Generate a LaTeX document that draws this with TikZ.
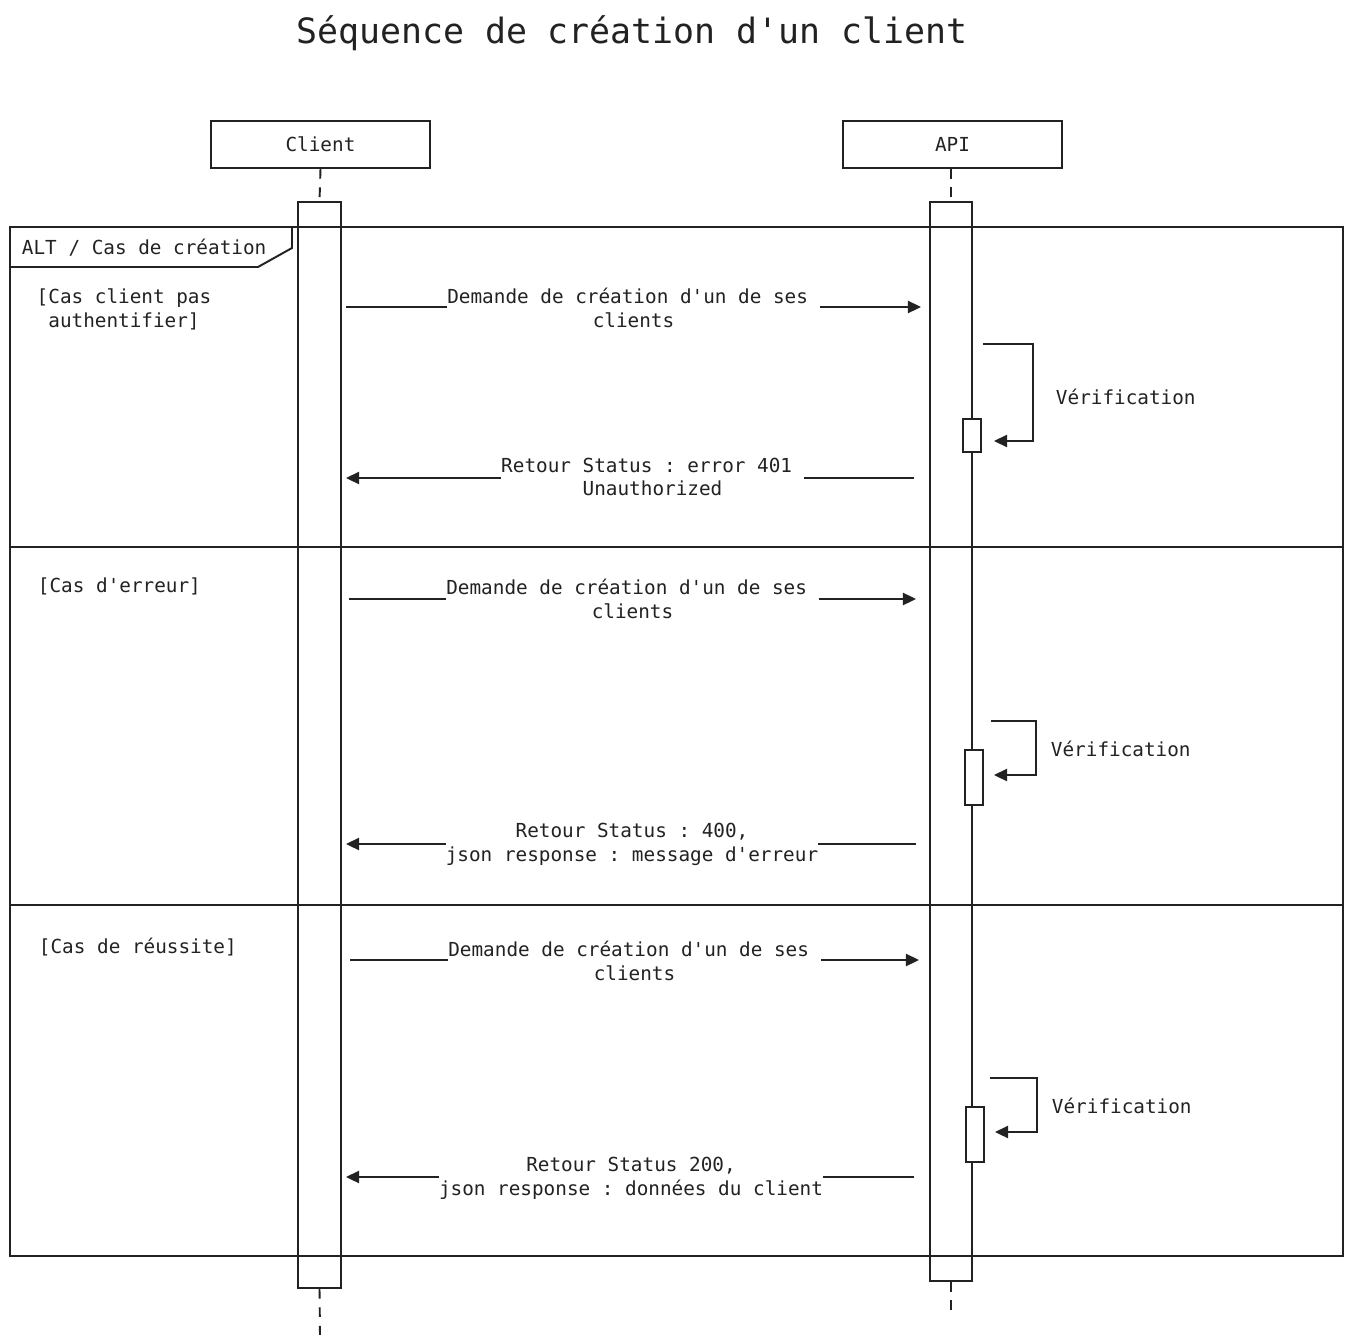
\documentclass[tikz,border=0pt]{standalone}
\usepackage{fontspec}
\setmonofont{DejaVu Sans Mono}
\renewcommand{\familydefault}{\ttdefault}
\frenchspacing
\usetikzlibrary{arrows.meta,positioning}
\definecolor{ink}{RGB}{34,34,34}

\begin{document}
\begin{tikzpicture}[x=0.02cm, y=-0.02cm, color=ink, line width=1.1pt,
  txt/.style={align=center, inner sep=0pt, font=\ttfamily\fontsize{11}{13.6}\selectfont},
  actor/.style={draw, rectangle, minimum width=4.38cm, minimum height=0.94cm, font=\ttfamily\fontsize{11}{13.6}\selectfont},
  bar/.style={draw, rectangle, minimum width=0.86cm, inner sep=0pt},
  selfbox/.style={draw, fill=white, rectangle, minimum width=0.36cm, inner sep=0pt},
  life/.style={dash pattern=on 5.5pt off 5pt},
  msg/.style={-{Triangle[length=7.5pt,width=7pt]}, line width=1pt},
  lbl/.style={txt, fill=white, inner ysep=1pt}]
\useasboundingbox (0,0) rectangle (1352,1335);
\node[font=\ttfamily\fontsize{19.85}{24}\selectfont] (title) at (632,33) {Séquence de création d'un client};
% participants and lifelines
\node[actor] (cli) at (320.5,144.5) {Client};
\node[actor] (api) at (952.5,144.5) {API};
\node[bar, minimum height=21.72cm] (actC) at (319.5,745) {};
\node[bar, minimum width=0.84cm, minimum height=21.58cm] (actA) at (951,741.5) {};
\coordinate (endC) at (320,1335);
\coordinate (endA) at (951,1316);
\draw[life] (cli.south) -- (actC.north); \draw[life] (actC.south) -- (endC);
\draw[life] (api.south -| actA.north) -- (actA.north); \draw[life] (actA.south) -- (endA);
% alt frame
\draw (10,227) rectangle (1343,1256);
\draw (10,547) -- (1343,547);
\draw (10,905) -- (1343,905);
\draw (10,267) -- (258,267) -- (292,248) -- (292,227);
\node[txt, anchor=west] (alt) at (21,248) {ALT / Cas de création};
\node[txt] (g1) at (124,309) {[Cas client pas\\authentifier]};
\node[txt, anchor=west] (g2) at (37,586) {[Cas d'erreur]};
\node[txt, anchor=west] (g3) at (38,947) {[Cas de réussite]};
% cas 1
\coordinate (m1a) at (346,307); \coordinate (m1b) at (921,307);
\draw[msg] (m1a) -- (m1b);
\node[lbl] (m1) at (633.5,308) {Demande de création d'un de ses\hphantom{x}\\clients};
\node[selfbox, minimum height=0.66cm] (chk1) at (972,435.5) {};
\coordinate (v1a) at (983,344); \coordinate (v1b) at (994,441);
\draw[msg] (v1a) -- ++(50,0) |- (v1b);
\node[txt, anchor=west] (v1) at (1055,397) {Vérification};
\coordinate (r1a) at (914,478); \coordinate (r1b) at (346,478);
\draw[msg] (r1a) -- (r1b);
\node[lbl] (r1) at (652.5,477) {Retour Status : error 401\hphantom{x}\\Unauthorized};
% cas 2
\coordinate (m2a) at (349,599); \coordinate (m2b) at (916,599);
\draw[msg] (m2a) -- (m2b);
\node[lbl] (m2) at (632.5,599) {Demande de création d'un de ses\hphantom{x}\\clients};
\node[selfbox, minimum height=1.1cm] (chk2) at (974,777.5) {};
\coordinate (v2a) at (991,721); \coordinate (v2b) at (994,775);
\draw[msg] (v2a) -- ++(45,0) |- (v2b);
\node[txt, anchor=west] (v2) at (1050,749) {Vérification};
\coordinate (r2a) at (916,844); \coordinate (r2b) at (346,844);
\draw[msg] (r2a) -- (r2b);
\node[lbl] (r2) at (632,844) {Retour Status : 400,\\json response : message d'erreur};
% cas 3
\coordinate (m3a) at (350,960); \coordinate (m3b) at (919,960);
\draw[msg] (m3a) -- (m3b);
\node[lbl] (m3) at (634.5,961) {Demande de création d'un de ses\hphantom{x}\\clients};
\node[selfbox, minimum height=1.1cm] (chk3) at (975,1134.5) {};
\coordinate (v3a) at (990,1078); \coordinate (v3b) at (995,1132);
\draw[msg] (v3a) -- ++(47,0) |- (v3b);
\node[txt, anchor=west] (v3) at (1051,1106) {Vérification};
\coordinate (r3a) at (914,1177); \coordinate (r3b) at (346,1177);
\draw[msg] (r3a) -- (r3b);
\node[lbl] (r3) at (631,1178) {Retour Status 200,\\json response : données du client};
\end{tikzpicture}
\end{document}
